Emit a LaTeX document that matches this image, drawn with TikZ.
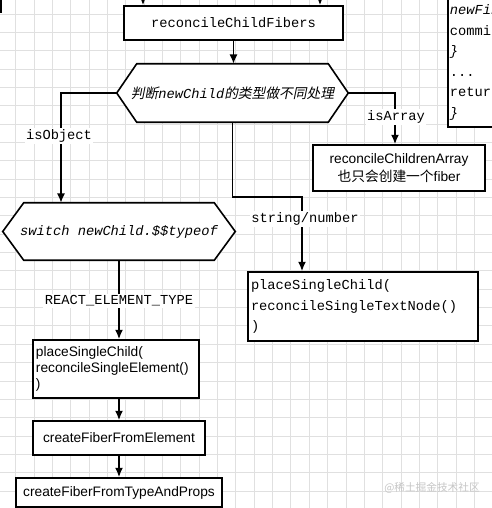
\documentclass[tikz,border=0pt]{standalone}
\usepackage{fontspec}
\setmainfont{Liberation Sans}
\setmonofont{Liberation Mono}
\newfontfamily\cjk{Noto Sans CJK SC}
\newfontfamily\cjkslant[FakeSlant=0.2]{Noto Sans CJK SC}
\usetikzlibrary{calc,arrows.meta,backgrounds}

\begin{document}
\begin{tikzpicture}[x=0.75pt,y=-0.75pt,
    font=\fontsize{10.3pt}{12pt}\selectfont,
    box/.style={draw, fill=white, very thick, inner sep=2pt},
    hexa/.style={inner sep=0pt},
    mono/.style={font=\fontsize{10.3pt}{15.4pt}\selectfont\ttfamily},
    tag/.style={fill=white, inner sep=1pt, font=\fontsize{10.3pt}{12pt}\selectfont\ttfamily},
    >={Latex[length=7pt,width=6pt]}]
    \useasboundingbox (0,0) rectangle (492,508);
    \clip (0,0) rectangle (492,508);

    % page and grid behind everything
    \begin{pgfonlayer}{background}
        \fill[white] (0,0) rectangle (492,508);
        \foreach \i in {0,...,27} {
            \draw[black!12, line width=0.75pt] ({-2.65+\i*18.35},0) -- ({-2.65+\i*18.35},508);
        }
        \foreach \j in {0,...,28} {
            \draw[black!12, line width=0.75pt] (0,{-4.35+\j*18.35}) -- (492,{-4.35+\j*18.35});
        }
    \end{pgfonlayer}

    % cut-off boxes at the top border
    \node[box, anchor=south east, minimum width=30pt, minimum height=30pt] (prev) at (1.5,13) {};
    \node[box, mono, anchor=north west, align=left, minimum height=96.75pt, inner xsep=1.5pt] (code) at (447,-3)
        {{\itshape newFib}\\commit\\{\itshape\}}\\...\\return\\{\itshape\}}};

    % main flow
    \node[box, mono, minimum width=164.25pt, minimum height=25.5pt] (fibers) at (233.5,23) {reconcileChildFibers};
    \node[hexa, minimum width=173.25pt, minimum height=43.5pt] (judge) at (232.5,93)
        {{\cjkslant 判断}{\ttfamily\itshape newChild}{\cjkslant 的类型做不同处理}};
    \node[hexa, minimum width=174pt, minimum height=42.75pt] (switch) at (119,231.5)
        {\ttfamily\itshape switch newChild.\$\$typeof};

    % hexagon outlines, drawn under the texts
    \begin{pgfonlayer}{background}
        \draw[box] ([xshift=15pt]judge.north west) -- ([xshift=-15pt]judge.north east) -- (judge.east)
            -- ([xshift=-15pt]judge.south east) -- ([xshift=15pt]judge.south west) -- (judge.west) -- cycle;
        \draw[box] ([xshift=15.75pt]switch.north west) -- ([xshift=-15.75pt]switch.north east) -- (switch.east)
            -- ([xshift=-15.75pt]switch.south east) -- ([xshift=15.75pt]switch.south west) -- (switch.west) -- cycle;
    \end{pgfonlayer}

    \node[box, minimum width=129pt, minimum height=34.5pt, align=center,
        font=\fontsize{10.3pt}{13.8pt}\selectfont] (array) at (399,168)
        {reconcileChildrenArray\\{\cjk 也只会创建一个}fiber};
    \node[box, mono, minimum width=172.5pt, minimum height=51.75pt, text width=168pt, align=left,
        inner xsep=2.25pt] (textnode) at (363,306.5)
        {placeSingleChild(\\reconcileSingleTextNode()\\)};
    \node[box, minimum width=124.5pt, minimum height=43.5pt, text width=120pt, align=left,
        inner xsep=2.25pt] (single) at (116,369)
        {placeSingleChild(\\reconcileSingleElement()\\)};
    \node[box, minimum width=129pt, minimum height=25.5pt] (element) at (119,438) {createFiberFromElement};
    \node[box, minimum width=154.5pt, minimum height=21.75pt] (props) at (119,492.5) {createFiberFromTypeAndProps};

    % watermark
    \node[text=gray!45, font=\fontsize{8pt}{9pt}\selectfont\cjk] (mark) at (432,488) {@稀土掘金技术社区};

    % arrows coming in from above
    \coordinate (inL) at (143,-6);
    \coordinate (inR) at (320,-6);
    \draw[->,very thick] (inL) -- (inL |- fibers.north);
    \draw[->,very thick] (inR) -- (inR |- fibers.north);
    \draw[->,very thick] (fibers.south) -- (fibers.south |- judge.north);

    % the three branches
    \draw[->,very thick] (judge.west) -| ($(switch.north)+(-58,0)$);
    \draw[->,very thick] (judge.east) -| ($(array.north)+(-4,0)$);
    \coordinate (bend) at (302,197);
    \draw[->,very thick] (judge.south) |- (bend) -- (bend |- textnode.north);

    % element chain
    \draw[->,very thick] (switch.south) -- (switch.south |- single.north);
    \draw[->,very thick] (single.south -| element.north) -- (element.north);
    \draw[->,very thick] (element.south) -- (props.north);

    % branch labels
    \node[tag] (lobject) at (59,136) {isObject};
    \node[tag] (larray) at (396,117) {isArray};
    \node[tag] (lstring) at (305,219) {string/number};
    \node[tag] (lreact) at (119,301) {REACT\_ELEMENT\_TYPE};
\end{tikzpicture}
\end{document}
